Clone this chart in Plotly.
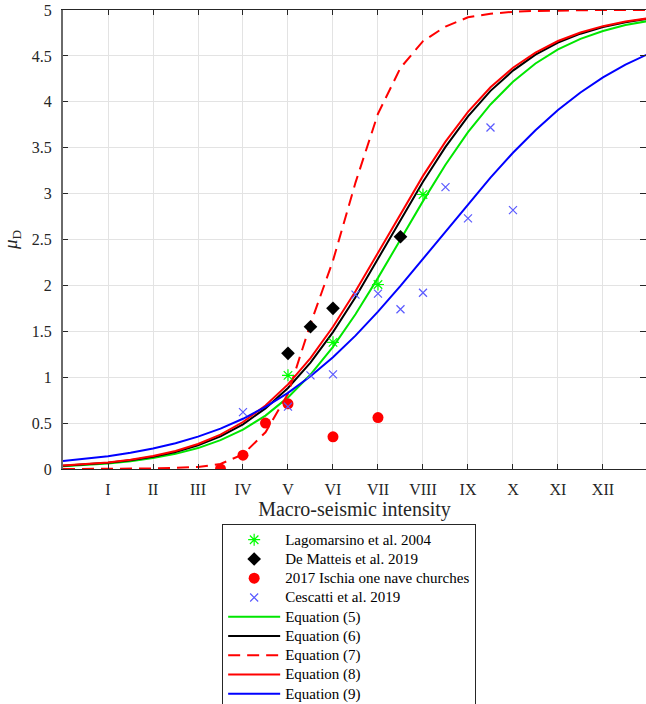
import plotly.graph_objects as go

# ---------------- data ----------------
roman_vals = [1, 2, 3, 4, 5, 6, 7, 8, 9, 10, 11, 12]
roman_text = ["I", "II", "III", "IV", "V", "VI", "VII", "VIII", "IX", "X", "XI", "XII"]
y_ticks = [0, 0.5, 1, 1.5, 2, 2.5, 3, 3.5, 4, 4.5, 5]
y_text = ["0", "0.5", "1", "1.5", "2", "2.5", "3", "3.5", "4", "4.5", "5"]

# observed points
lago_x = [5, 6, 7, 8]
lago_y = [1.02, 1.38, 2.01, 2.99]

dem_x = [5, 5.5, 6, 7.5]
dem_y = [1.26, 1.55, 1.75, 2.53]

isch_x = [3.5, 4, 4.5, 5, 6, 7]
isch_y = [0.0, 0.15, 0.50, 0.71, 0.35, 0.56]

cesc_x = [4, 5, 5.5, 6, 6.5, 7, 7.5, 8, 8.5, 9, 9.5, 10]
cesc_y = [0.62, 0.68, 1.02, 1.03, 1.90, 1.91, 1.74, 1.92, 3.07, 2.73, 3.72, 2.82]

# curves sampled every 0.5 intensity unit
curve_x = [0, 0.5, 1, 1.5, 2, 2.5, 3, 3.5, 4, 4.5, 5, 5.5, 6, 6.5, 7, 7.5, 8,
           8.5, 9, 9.5, 10, 10.5, 11, 11.5, 12, 12.5, 13]
eq5_y = [0.031, 0.044, 0.061, 0.085, 0.119, 0.165, 0.228, 0.314, 0.429, 0.582,
         0.780, 1.029, 1.331, 1.686, 2.082, 2.500, 2.918, 3.314, 3.669, 3.971,
         4.219, 4.417, 4.570, 4.686, 4.771, 4.836, 4.880]
eq6_y = [0.035, 0.049, 0.068, 0.096, 0.134, 0.186, 0.258, 0.356, 0.487, 0.660,
         0.882, 1.158, 1.491, 1.871, 2.286, 2.713, 3.129, 3.509, 3.842, 4.119,
         4.340, 4.513, 4.644, 4.742, 4.814, 4.867, 4.904]
eq7_y = [0.0, 0.0, 0.0, 0.003, 0.006, 0.012, 0.022, 0.055, 0.16, 0.40,
         0.82, 1.58, 2.27, 3.12, 3.87, 4.37, 4.66, 4.82, 4.92, 4.96,
         4.98, 4.99, 4.995, 4.998, 5.0, 5.0, 5.0]
eq8_y = [0.037, 0.051, 0.072, 0.101, 0.141, 0.196, 0.272, 0.375, 0.512, 0.692,
         0.922, 1.208, 1.549, 1.936, 2.354, 2.781, 3.193, 3.566, 3.890, 4.158,
         4.371, 4.536, 4.662, 4.755, 4.824, 4.874, 4.909]
eq9_y = [0.088, 0.111, 0.140, 0.177, 0.224, 0.281, 0.353, 0.440, 0.547, 0.676,
         0.829, 1.010, 1.218, 1.453, 1.714, 1.994, 2.289, 2.591, 2.888, 3.175,
         3.445, 3.690, 3.910, 4.101, 4.265, 4.404, 4.520]

FONT = "Liberation Serif, Times New Roman, serif"
AXC = "#262626"


def big(label):
    return "<span style='font-size:15px'>" + label + "</span>"


fig = go.Figure()

# lines
line_specs = [
    ("Equation (5)", eq5_y, "#00e600", "solid", 5),
    ("Equation (6)", eq6_y, "#000000", "solid", 6),
    ("Equation (7)", eq7_y, "#ff0000", "12px,7px", 7),
    ("Equation (8)", eq8_y, "#ff0000", "solid", 8),
    ("Equation (9)", eq9_y, "#0000ff", "solid", 9),
]
for name, ys, col, dash, rank in line_specs:
    fig.add_trace(go.Scatter(x=curve_x, y=ys, mode="lines", name=big(name),
                             line=dict(color=col, width=2, dash=dash),
                             legendrank=rank))

# markers
fig.add_trace(go.Scatter(x=lago_x, y=lago_y, mode="markers", name=big("Lagomarsino et al. 2004"),
                         marker=dict(symbol="asterisk-open", size=10, color="#00ff00",
                                     line=dict(color="#00ff00", width=1.2)),
                         legendrank=1))
fig.add_trace(go.Scatter(x=dem_x, y=dem_y, mode="markers", name=big("De Matteis et al. 2019"),
                         marker=dict(symbol="diamond", size=10.5, color="#000000"),
                         legendrank=2))
fig.add_trace(go.Scatter(x=isch_x, y=isch_y, mode="markers",
                         name=big("2017 Ischia one nave churches"),
                         marker=dict(symbol="circle", size=11, color="#ff0000"),
                         legendrank=3))
fig.add_trace(go.Scatter(x=cesc_x, y=cesc_y, mode="markers", name=big("Cescatti et al. 2019"),
                         marker=dict(symbol="x-thin-open", size=8, color="#5a5aff",
                                     line=dict(color="#5a5aff", width=1.2)),
                         legendrank=4))

# invisible trace to carry the right-hand tick axis
fig.add_trace(go.Scatter(x=[0], y=[0], yaxis="y2", mode="markers",
                         marker=dict(opacity=0), showlegend=False, hoverinfo="skip"))

fig.update_layout(
    width=646, height=704,
    margin=dict(l=63, r=0, t=10, b=235, autoexpand=False),
    plot_bgcolor="white", paper_bgcolor="white",
    font=dict(family=FONT, size=16, color=AXC),
    showlegend=True,
    xaxis=dict(range=[0, 12.956], tickvals=roman_vals, ticktext=roman_text,
               showgrid=True, gridcolor="#e3e3e3", gridwidth=1,
               ticks="inside", ticklen=5, tickcolor=AXC,
               showline=True, linecolor=AXC, linewidth=1, mirror="ticks",
               zeroline=False, ticklabelstandoff=6,
               tickfont=dict(size=16, family=FONT, color=AXC),
               title=dict(text="Macro-seismic intensity", standoff=4,
                          font=dict(size=20, family=FONT, color=AXC))),
    yaxis=dict(range=[0, 5], tickvals=y_ticks, ticktext=y_text,
               showgrid=True, gridcolor="#e3e3e3", gridwidth=1,
               ticks="inside", ticklen=5, tickcolor=AXC,
               showline=True, linecolor="#6a6a6a", linewidth=2,
               zeroline=False, ticklabelstandoff=6,
               tickfont=dict(size=16, family=FONT, color=AXC),
               title=dict(text="<i>μ</i><sub>D</sub>", standoff=12,
                          font=dict(size=19, family=FONT, color=AXC))),
    yaxis2=dict(range=[0, 5], tickvals=y_ticks, overlaying="y", side="right",
                showgrid=False, showline=False, zeroline=False,
                ticks="inside", ticklen=6, tickcolor=AXC,
                showticklabels=False),
    legend=dict(x=0.273, y=-0.12, xanchor="left", yanchor="top",
                bgcolor="white", bordercolor=AXC, borderwidth=1,
                font=dict(size=12.5, family=FONT, color="#000000"),
                itemwidth=52, tracegroupgap=0, traceorder="normal"),
)

fig.write_html("out.html", config={"displayModeBar": False},
               post_script="document.body.style.margin='0';document.body.style.overflow='hidden';")
